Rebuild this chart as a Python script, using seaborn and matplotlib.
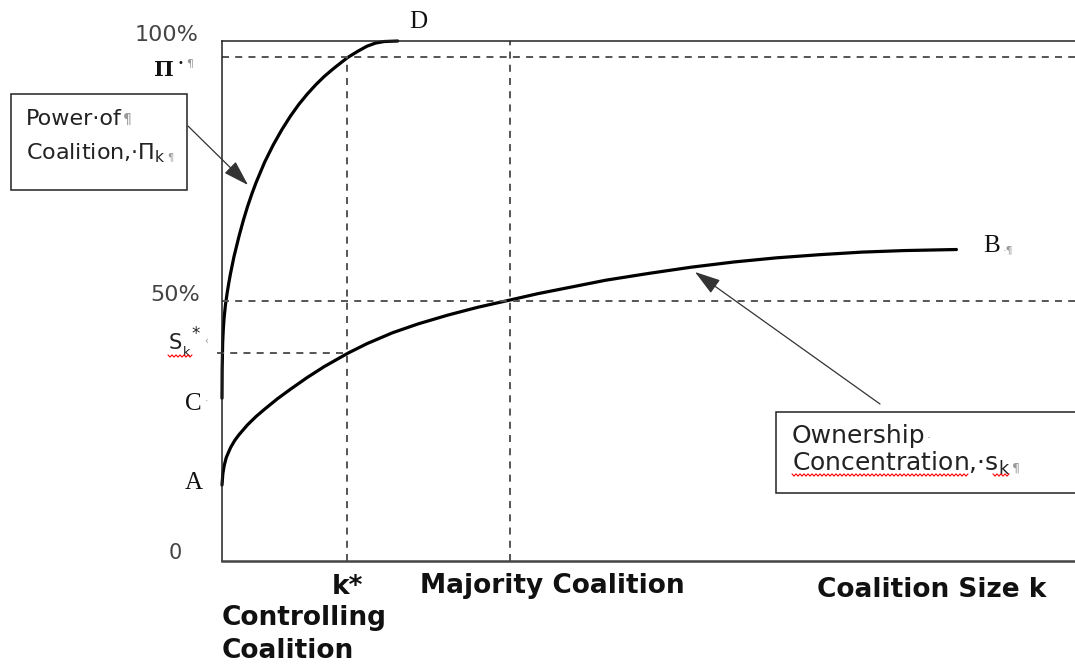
import numpy as np
import seaborn as sns
import matplotlib.pyplot as plt
import matplotlib.transforms as mtransforms
from matplotlib.patches import Rectangle
from matplotlib.lines import Line2D

# coalition size (share of the axis) and power of the coalition, Pi_k (%)
k_power = [0, 0.02, 0.08, 0.15, 0.25, 0.4, 0.6, 0.8, 1.0, 1.4, 2.0, 2.5, 3.0, 3.5, 4.0, 5.0,
           6.0, 7.0, 8.0, 9.0, 10.0, 11.0, 12.0, 13.0, 14.0, 14.8, 16.0, 17.0, 18.0, 19.0, 20.6]
power = [31.3, 37.0, 42.0, 44.5, 46.8, 49.2, 51.5, 53.5, 55.3, 58.5, 62.5, 65.5, 68.2, 70.6, 72.8, 76.7,
         80.0, 82.9, 85.5, 87.8, 89.8, 91.6, 93.2, 94.6, 95.9, 96.9, 98.1, 99.0, 99.6, 99.9, 100.0]

# ownership concentration, s_k (%)
k_own = [0, 0.1, 0.25, 0.5, 1.0, 1.5, 2.0, 3.0, 4.0, 5.0, 6.5, 8.0, 10.0, 12.0, 14.8, 17.0,
         20.0, 23.0, 26.5, 30.0, 33.8, 37.0, 41.0, 45.0, 50.0, 55.0, 60.0, 65.0, 70.0, 75.0, 80.0, 86.1]
own = [14.6, 16.8, 18.3, 19.9, 21.8, 23.2, 24.3, 26.2, 27.8, 29.2, 31.2, 33.0, 35.3, 37.4, 40.0, 41.8,
       43.9, 45.6, 47.3, 48.8, 50.2, 51.4, 52.7, 54.0, 55.3, 56.5, 57.5, 58.3, 58.9, 59.4, 59.7, 59.9]

k_star = 14.7      # controlling coalition
k_major = 33.8     # majority coalition
pi_star = 96.9
s_star = 40.0
half = 50

sns.set_style('white')
plt.rcParams['font.family'] = ['DejaVu Sans']

W, H = 1075, 667
fig = plt.figure(figsize=(W / 100, H / 100), dpi=100)
ax = fig.add_axes([222 / W, 1 - 561 / H, 853 / W, 520 / H])
# pixel coordinates, origin top left
px = mtransforms.Affine2D().scale(1 / W, -1 / H).translate(0, 1) + fig.transFigure

sns.lineplot(x=k_own, y=own, ax=ax, color='black', lw=2.3, estimator=None, sort=False)
sns.lineplot(x=k_power, y=power, ax=ax, color='black', lw=2.3, estimator=None, sort=False)
for ln in ax.lines:
    ln.set_clip_on(False)
    ln.set_solid_joinstyle('round')

dash = dict(color='#555', lw=1.4, dashes=(3.6, 3.2))
ax.axhline(pi_star, **dash)
ax.axhline(half, **dash)
ax.axvline(k_major, **dash)
ax.plot([-0.6, k_star], [s_star, s_star], clip_on=False, **dash)
ax.plot([k_star, k_star], [0, pi_star], **dash)

ax.set_xlim(0, 100)
ax.set_ylim(0, 100)
ax.set_xticks([])
ax.set_yticks([])
ax.spines['right'].set_visible(False)
for s in ['left', 'top']:
    ax.spines[s].set_color('#222')
    ax.spines[s].set_linewidth(1.1)
ax.spines['bottom'].set_color('#444')
ax.spines['bottom'].set_linewidth(1.8)


def chain(x, y, parts, **kw):
    s, size, color = parts[0]
    t = ax.text(x, y, s, transform=px, fontsize=size, color=color, ha='left', va='baseline', **kw)
    for s, size, color in parts[1:]:
        t = ax.annotate(s, xy=(1, 0), xycoords=t, xytext=(1, 2), textcoords='offset points',
                        fontsize=size, color=color, ha='left', va='bottom')
    return t


def squiggle(x0, x1, y):
    xs = np.arange(x0, x1 + 0.1, 2.0)
    ys = y + np.where(np.arange(len(xs)) % 2 == 0, -1.1, 1.1)
    fig.add_artist(Line2D(xs, ys, transform=px, color='red', lw=0.8))


# left side labels
ax.text(198, 35, '100%', transform=px, ha='right', va='center', fontsize=16, color='#444')
ax.text(164, 70, 'Π', transform=px, ha='center', va='center', fontsize=15,
        weight='bold', family='DejaVu Serif', color='#111')
ax.text(180, 63, '•', transform=px, ha='center', va='center', fontsize=7, color='#111')
ax.text(190, 63, '¶', transform=px, ha='center', va='center', fontsize=8, color='#999')
ax.text(200, 295, '50%', transform=px, ha='right', va='center', fontsize=16, color='#444')
ax.text(175, 343, 'S', transform=px, ha='center', va='center', fontsize=15, color='#222')
ax.text(186, 352, 'k', transform=px, ha='center', va='center', fontsize=9, color='#222')
ax.text(196, 334, '*', transform=px, ha='center', va='center', fontsize=12, color='#222')
ax.text(206, 341, '‹', transform=px, ha='center', va='center', fontsize=7, color='#999')
squiggle(168, 192, 356)
serif = dict(transform=px, ha='center', va='center', fontsize=18, family='Liberation Serif', color='#111')
ax.text(193, 404, 'C', **serif)
ax.text(207, 401, '·', transform=px, ha='center', va='center', fontsize=8, color='#999')
ax.text(194, 483, 'A', **serif)
ax.text(175, 553, '0', transform=px, ha='center', va='center', fontsize=15, color='#444')
ax.text(418, 22, 'D', **serif)
b = ax.text(983, 252, 'B', transform=px, ha='left', va='baseline', fontsize=18,
            family='Liberation Serif', color='#111')
ax.annotate('·¶', xy=(1, 0), xycoords=b, xytext=(2, 1), textcoords='offset points',
            fontsize=8, color='#999', ha='left', va='bottom')

# power of coalition box
ax.add_patch(Rectangle((11, 94), 176, 96, transform=px, fill=True, facecolor='white',
                       edgecolor='#222', lw=1.1, clip_on=False))
chain(26, 125, [('Power·of', 16, '#222'), ('¶', 10, '#999')])
chain(26, 159, [('Coalition,·$\\Pi_{\\mathrm{k}}$', 16, '#222'), ('¶', 7, '#999')])
ax.annotate('', xy=(248, 185), xycoords=px, xytext=(188, 126), textcoords=px,
            arrowprops=dict(arrowstyle='-|>,head_length=0.8,head_width=0.25', mutation_scale=20,
                            color='#333', lw=0.9, shrinkA=0, shrinkB=0))

# ownership concentration box
ax.add_patch(Rectangle((776, 412), 320, 81, transform=px, fill=True, facecolor='white',
                       edgecolor='#222', lw=1.1, clip_on=False))
chain(792, 443, [('Ownership', 18, '#222'), ('·', 9, '#999')])
chain(792, 471, [('Concentration,·$\\mathregular{s_k}$', 18, '#222'), ('¶', 9, '#999')])
squiggle(792, 968, 475)
squiggle(993, 1009, 475)
ax.annotate('', xy=(695, 272), xycoords=px, xytext=(880, 404), textcoords=px,
            arrowprops=dict(arrowstyle='-|>,head_length=0.8,head_width=0.25', mutation_scale=20,
                            color='#333', lw=0.9, shrinkA=0, shrinkB=0))

# bottom labels
bold = dict(transform=px, va='center', fontsize=19, weight='bold', color='#111')
ax.text(347, 587, 'k*', ha='center', **bold)
ax.text(420, 586, 'Majority Coalition', ha='left', **bold)
ax.text(817, 590, 'Coalition Size k', ha='left', **bold)
ax.text(222, 618, 'Controlling', ha='left', **bold)
ax.text(222, 651, 'Coalition', ha='left', **bold)

fig.savefig('out.png', dpi=100)
